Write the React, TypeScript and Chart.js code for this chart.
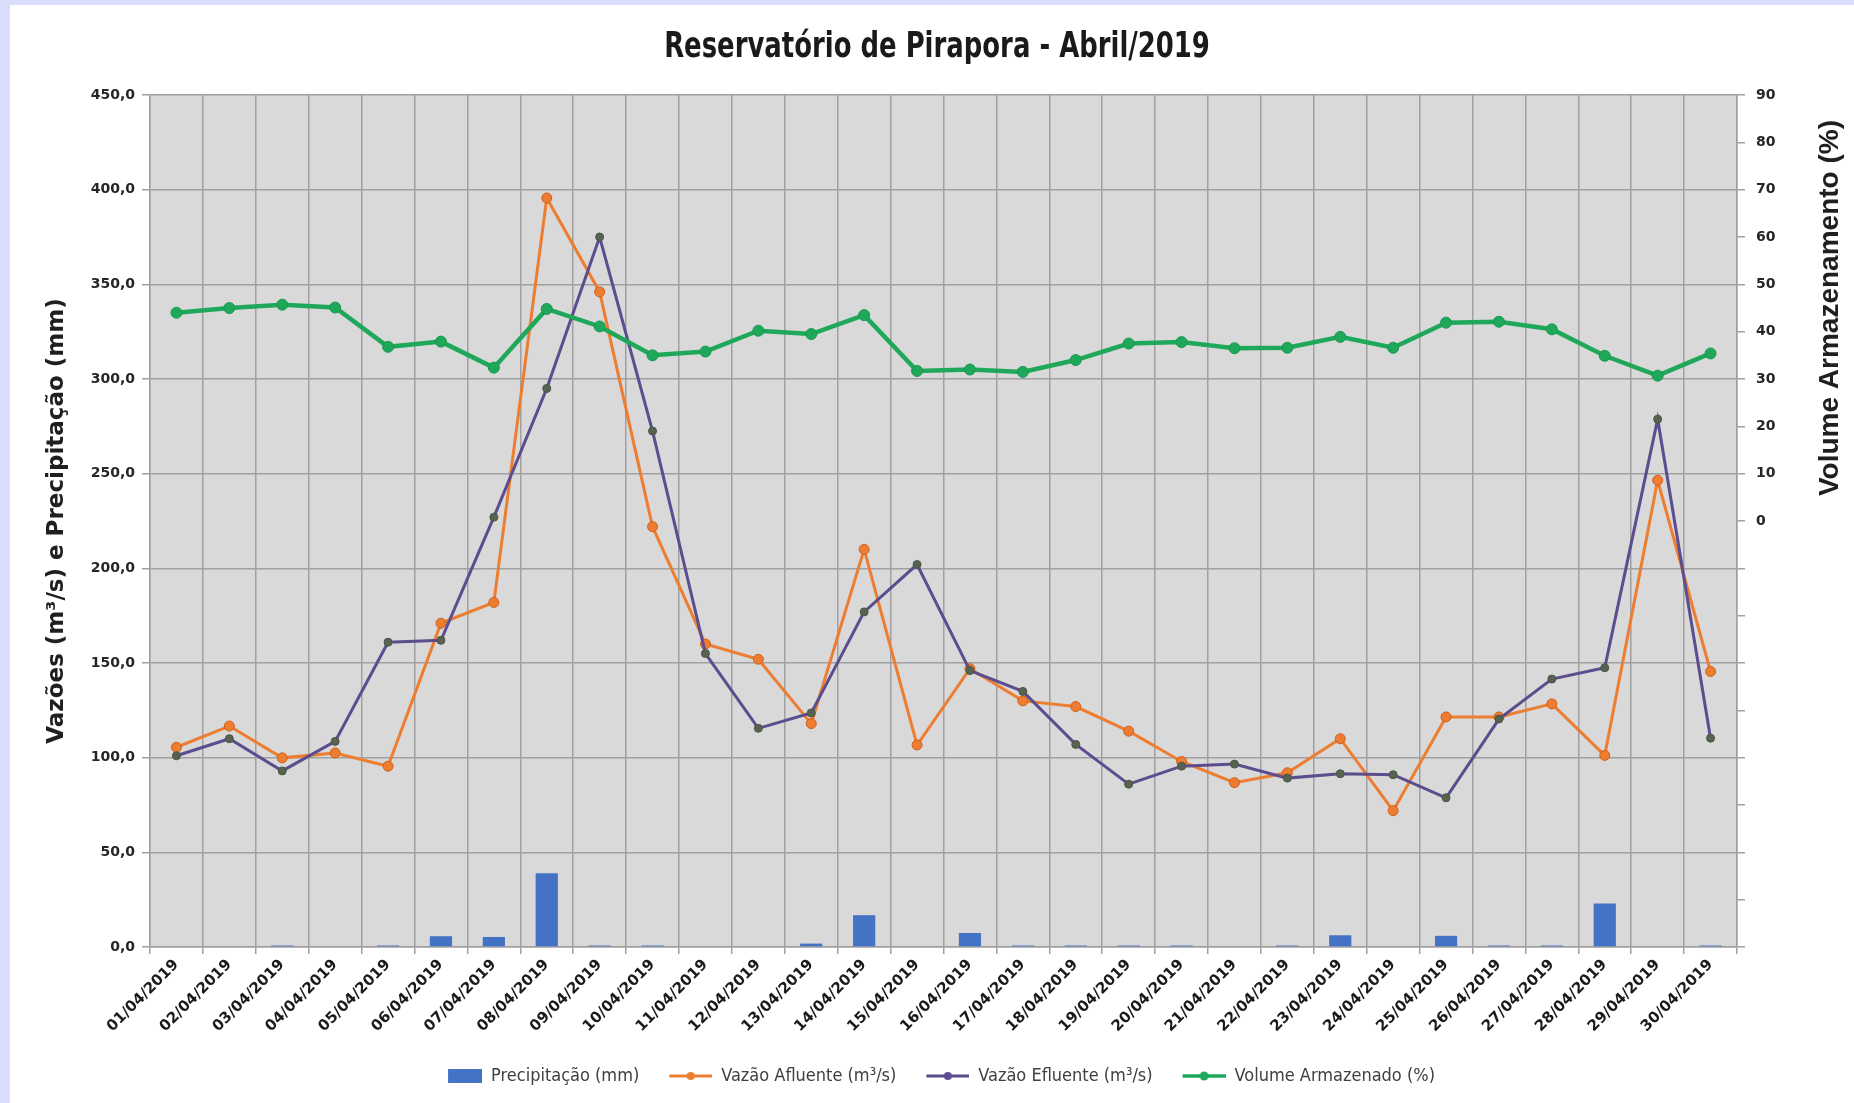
import React, { useEffect, useRef } from 'react';
import { Chart, registerables } from 'chart.js';

Chart.register(...registerables);

const categories = [
  '01/04/2019', '02/04/2019', '03/04/2019', '04/04/2019', '05/04/2019', '06/04/2019',
  '07/04/2019', '08/04/2019', '09/04/2019', '10/04/2019', '11/04/2019', '12/04/2019',
  '13/04/2019', '14/04/2019', '15/04/2019', '16/04/2019', '17/04/2019', '18/04/2019',
  '19/04/2019', '20/04/2019', '21/04/2019', '22/04/2019', '23/04/2019', '24/04/2019',
  '25/04/2019', '26/04/2019', '27/04/2019', '28/04/2019', '29/04/2019', '30/04/2019',
];

const precipitacao = [
  0, 0, 0.8, 0, 0.8, 5.7, 5.3, 39.0, 0.8, 0.8, 0, 0, 1.8, 16.8, 0,
  7.4, 0.8, 0.8, 0.8, 0.8, 0, 0.8, 6.2, 0, 5.9, 0.8, 0.8, 23.0, 0, 0.8,
];

const vazaoAfluente = [
  105.5, 116.7, 99.9, 102.5, 95.5, 171.0, 182.0, 395.6, 346.0, 222.0, 160.0, 152.0, 118.0, 210.0, 106.7,
  147.0, 130.0, 127.0, 114.0, 98.0, 86.8, 92.0, 110.0, 72.0, 121.5, 121.5, 128.4, 101.2, 246.5, 145.5,
];

const vazaoEfluente = [
  101.0, 110.0, 93.0, 108.6, 161.0, 162.0, 227.0, 295.0, 375.0, 272.5, 155.0, 115.5, 123.6, 177.0, 202.0,
  146.0, 135.0, 107.0, 86.0, 95.5, 96.6, 89.2, 91.5, 91.0, 78.8, 120.4, 141.5, 147.5, 278.8, 110.3,
];

const volumeArmazenado = [
  44.0, 45.0, 45.7, 45.1, 36.8, 37.9, 32.4, 44.8, 41.1, 35.0, 35.8, 40.2, 39.5, 43.5, 31.7,
  32.0, 31.5, 34.0, 37.5, 37.8, 36.5, 36.6, 38.9, 36.6, 41.9, 42.1, 40.5, 34.9, 30.7, 35.4,
];

const leftTicksMax = 450;
const rightTicksMin = -90;
const rightTicksMax = 90;

const titleText = 'Reservatório de Pirapora - Abril/2019';
const leftTitle = 'Vazões (m³/s) e Precipitação (mm)';
const rightTitle = 'Volume Armazenamento (%)';
const seriesNames = ['Precipitação (mm)', 'Vazão Afluente (m³/s)', 'Vazão Efluente (m³/s)', 'Volume Armazenado (%)'];

const NARROW = "'Liberation Sans Narrow', 'DejaVu Sans Condensed', 'Noto Sans', sans-serif";
const WIDE = "'DejaVu Sans', Verdana, sans-serif";
const ARIAL = "'Liberation Sans', Arial, sans-serif";

const ICON_W = 63;

function makeIcon(kind: string, color: string, dot: string, lw: number, r: number): HTMLCanvasElement {
  const c = document.createElement('canvas');
  c.width = ICON_W;
  c.height = 18;
  const ctx = c.getContext('2d')!;
  if (kind === 'bar') {
    ctx.fillStyle = color;
    ctx.fillRect(ICON_W - 34, 2, 34, 14);
  } else {
    ctx.strokeStyle = color;
    ctx.lineWidth = lw;
    ctx.beginPath();
    ctx.moveTo(ICON_W - 43, 9);
    ctx.lineTo(ICON_W, 9);
    ctx.stroke();
    ctx.fillStyle = dot;
    ctx.beginPath();
    ctx.arc(ICON_W - 21.5, 9, r, 0, Math.PI * 2);
    ctx.fill();
  }
  return c;
}

export default function App() {
  const ref = useRef<HTMLCanvasElement | null>(null);

  useEffect(() => {
    if (!ref.current) return;
    const icons = [
      makeIcon('bar', '#4472c4', '#4472c4', 0, 0),
      makeIcon('line', '#ed7d31', '#ed7d31', 3, 4),
      makeIcon('line', '#5b4d8e', '#5b4d8e', 3, 4),
      makeIcon('line', '#1fa85a', '#1fa85a', 3.5, 4.5),
    ];

    const bgPlugin = {
      id: 'bgPlugin',
      beforeDraw(chart: any) {
        const { ctx, width, height, chartArea } = chart;
        ctx.save();
        ctx.fillStyle = '#d8defb';
        ctx.fillRect(0, 0, width, height);
        ctx.fillStyle = '#ffffff';
        ctx.fillRect(10, 5, width - 10, height - 5);
        ctx.fillStyle = '#d9d9d9';
        ctx.fillRect(chartArea.left, chartArea.top, chartArea.right - chartArea.left, chartArea.bottom - chartArea.top);
        ctx.restore();
      },
      afterDraw(chart: any) {
        const { ctx } = chart;
        // main title, condensed
        ctx.save();
        ctx.translate(chart.width / 2 + 10, 48);
        ctx.scale(0.8, 1);
        ctx.font = `bold 36px ${NARROW}`;
        ctx.textAlign = 'center';
        ctx.textBaseline = 'middle';
        ctx.fillStyle = '#1a1a1a';
        ctx.fillText(titleText, 0, 0);
        ctx.restore();
        // right axis title
        const s = chart.scales.y2;
        const yTop = s.getPixelForValue(90);
        const yZero = s.getPixelForValue(0);
        ctx.save();
        ctx.translate(s.right - 24, (yTop + yZero) / 2);
        ctx.rotate(-Math.PI / 2);
        ctx.font = `bold 28px ${ARIAL}`;
        ctx.textAlign = 'center';
        ctx.textBaseline = 'middle';
        ctx.fillStyle = '#1f1f1f';
        ctx.fillText(rightTitle, 0, 0);
        ctx.restore();
      },
    };

    const chart = new Chart(ref.current, {
      type: 'bar',
      data: {
        labels: categories,
        datasets: [
          {
            type: 'bar',
            label: seriesNames[0],
            data: precipitacao,
            backgroundColor: '#4472c4',
            barPercentage: 0.42,
            categoryPercentage: 1,
            yAxisID: 'y',
            order: 4,
          },
          {
            type: 'line',
            label: seriesNames[1],
            data: vazaoAfluente,
            borderColor: '#ed7d31',
            backgroundColor: '#ed7d31',
            borderWidth: 3,
            pointRadius: 5,
            pointBackgroundColor: '#ed7d31',
            pointBorderColor: '#d2601b',
            pointBorderWidth: 1,
            yAxisID: 'y',
            order: 3,
          },
          {
            type: 'line',
            label: seriesNames[2],
            data: vazaoEfluente,
            borderColor: '#5b4d8e',
            backgroundColor: '#5b4d8e',
            borderWidth: 3,
            pointRadius: 4,
            pointBackgroundColor: '#56634f',
            pointBorderColor: '#4b5646',
            pointBorderWidth: 1,
            yAxisID: 'y',
            order: 2,
          },
          {
            type: 'line',
            label: seriesNames[3],
            data: volumeArmazenado,
            borderColor: '#1fa85a',
            backgroundColor: '#1fa85a',
            borderWidth: 4.5,
            pointRadius: 5.5,
            pointBackgroundColor: '#1fa85a',
            pointBorderColor: '#1a9950',
            pointBorderWidth: 1,
            yAxisID: 'y2',
            order: 1,
          },
        ],
      },
      options: {
        responsive: false,
        animation: false,
        devicePixelRatio: 1,
        layout: { padding: { top: 0, left: 0, right: 0, bottom: 8 } },
        plugins: {
          tooltip: { enabled: false },
          title: {
            display: true,
            text: titleText,
            color: 'rgba(0,0,0,0)',
            font: { family: NARROW, size: 32, weight: 'bold' },
            padding: { top: 26, bottom: 30.6 },
          },
          legend: {
            display: true,
            position: 'bottom',
            labels: {
              usePointStyle: true,
              pointStyleWidth: ICON_W,
              boxHeight: 18,
              padding: 10,
              color: '#404040',
              font: { family: NARROW, size: 18 },
              generateLabels: (c: any) => {
                const items = (Chart.defaults.plugins.legend.labels as any).generateLabels(c);
                return items
                  .sort((a: any, b: any) => a.datasetIndex - b.datasetIndex)
                  .map((it: any) => ({ ...it, pointStyle: icons[it.datasetIndex] }));
              },
            },
          },
        },
        scales: {
          x: {
            type: 'category',
            offset: true,
            grid: { offset: true, color: '#a0a0a0', lineWidth: 1.5, tickLength: 7, drawTicks: true },
            border: { color: '#a0a0a0', width: 1.5 },
            ticks: {
              autoSkip: false,
              minRotation: 45,
              maxRotation: 45,
              padding: 2,
              color: '#1a1a1a',
              font: { family: WIDE, size: 15, weight: 'bold' },
            },
            afterFit: (s: any) => { s.height = 110; },
          },
          y: {
            type: 'linear',
            position: 'left',
            min: 0,
            max: leftTicksMax,
            ticks: {
              stepSize: 50,
              padding: 7,
              color: '#262626',
              font: { family: WIDE, size: 14, weight: 'bold' },
              callback: (v: any) => Number(v).toFixed(1).replace('.', ','),
            },
            grid: { color: '#a0a0a0', lineWidth: 1.5, tickLength: 8 },
            border: { color: '#a0a0a0', width: 1.5 },
            title: {
              display: true,
              text: leftTitle,
              color: '#1f1f1f',
              font: { family: WIDE, size: 23, weight: 'bold' },
              padding: { top: 43, bottom: 0 },
            },
            afterFit: (s: any) => { s.width = 150; },
          },
          y2: {
            type: 'linear',
            position: 'right',
            min: rightTicksMin,
            max: rightTicksMax,
            ticks: {
              stepSize: 10,
              padding: 11,
              color: '#262626',
              font: { family: WIDE, size: 14, weight: 'bold' },
              callback: (v: any) => (Number(v) >= 0 ? String(v) : ''),
            },
            grid: { drawOnChartArea: false, color: '#a0a0a0', lineWidth: 1.5, tickLength: 8 },
            border: { color: '#a0a0a0', width: 1.5 },
            afterFit: (s: any) => { s.width = 117; },
          },
        },
      },
      plugins: [bgPlugin],
    } as any);

    return () => chart.destroy();
  }, []);

  return (
    <div style={{ position: 'fixed', left: 0, top: 0, width: 1854, height: 1103, overflow: 'hidden' }}>
      <canvas ref={ref} width={1854} height={1103} style={{ display: 'block', width: 1854, height: 1103 }} />
    </div>
  );
}
